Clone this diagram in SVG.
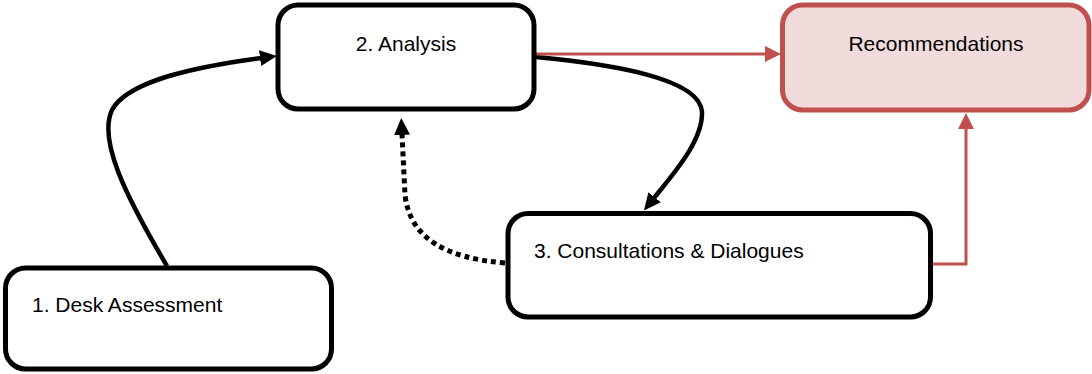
<svg xmlns="http://www.w3.org/2000/svg" width="1092" height="374" viewBox="0 0 1092 374">
<style>
.box{fill:#ffffff;stroke:#000000;stroke-width:5}
.rec{fill:#f2dcdb;stroke:#c0504d;stroke-width:5}
.lbl{font-family:"Liberation Sans",Arial,sans-serif;font-size:21px;fill:#000000}
.blk{fill:none;stroke:#000000;stroke-width:4.5}
.dot{fill:none;stroke:#000000;stroke-width:5;stroke-dasharray:5 4}
.red{fill:none;stroke:#c0504d;stroke-width:3}
</style>
<defs>
<marker id="ab" markerUnits="userSpaceOnUse" markerWidth="17" markerHeight="16" refX="1" refY="8" orient="auto" viewBox="0 0 17 16">
<path d="M0,0 L17,8 L0,16 z" fill="#000000"/>
</marker>
<marker id="ar" markerUnits="userSpaceOnUse" markerWidth="16" markerHeight="16" refX="1" refY="8" orient="auto" viewBox="0 0 16 16">
<path d="M0,0 L16,8 L0,16 z" fill="#c0504d"/>
</marker>
</defs>
<g id="connectors">
<path class="blk" d="M167,266 C125,195 98,140 112,110 C128,80 200,66 261,58" marker-end="url(#ab)"/>
<path class="blk" d="M536,57 C610,64 700,78 702,112 C703,140 675,172 654,198" marker-end="url(#ab)"/>
<path class="dot" d="M505,263 C445,258 410,238 405,195 L402,134" marker-end="url(#ab)"/>
<path class="red" d="M536,54 L766,54" marker-end="url(#ar)"/>
<path class="red" d="M931,264 L966,264 L966,128" marker-end="url(#ar)"/>
</g>
<g id="analysis">
<rect class="box" x="278" y="5" width="256" height="104" rx="20"/>
<text class="lbl" x="406" y="51" text-anchor="middle">2. Analysis</text>
</g>
<g id="recommendations">
<rect class="rec" x="782.5" y="5" width="306.5" height="105" rx="20"/>
<text class="lbl" x="936" y="51" text-anchor="middle">Recommendations</text>
</g>
<g id="consultations">
<rect class="box" x="508" y="213.5" width="422.5" height="103.5" rx="20"/>
<text class="lbl" x="534" y="258">3. Consultations &amp; Dialogues</text>
</g>
<g id="desk">
<rect class="box" x="5.5" y="268" width="326" height="101" rx="20"/>
<text class="lbl" x="32" y="312">1. Desk Assessment</text>
</g>
</svg>
